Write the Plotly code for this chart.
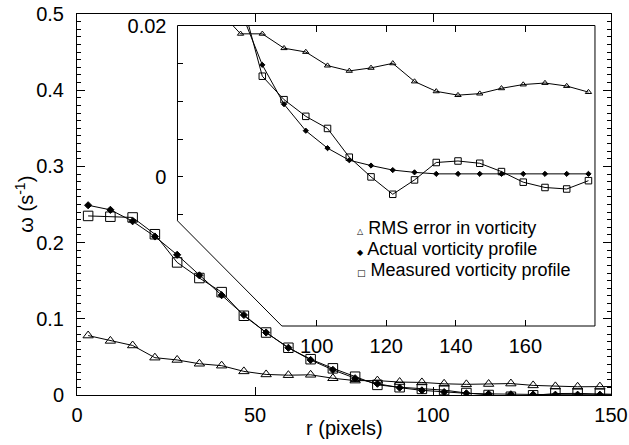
import plotly.graph_objects as go

# ---------------- data ----------------
r_pixels = [3.125, 9.375, 15.625, 21.875, 28.125, 34.375, 40.625, 46.875,
            53.125, 59.375, 65.625, 71.875, 78.125, 84.375, 90.625, 96.875,
            103.125, 109.375, 115.625, 121.875, 128.125, 134.375, 140.625,
            146.875, 153.125, 159.375, 165.625, 171.875, 178.125]

rms_error = [0.078, 0.071, 0.065, 0.049, 0.046, 0.041, 0.0385, 0.031,
             0.027, 0.026, 0.0265, 0.022, 0.0189, 0.0189, 0.0170, 0.0165,
             0.0147, 0.0140, 0.0144, 0.0150, 0.0126, 0.0113, 0.0108,
             0.0110, 0.0117, 0.0122, 0.0124, 0.0120, 0.0112]

actual_profile = [0.249, 0.243, 0.228, 0.208, 0.184, 0.157, 0.131, 0.105,
                  0.082, 0.062, 0.046, 0.033, 0.022, 0.0148, 0.0096, 0.0061,
                  0.0038, 0.0022, 0.0015, 0.0009, 0.0006, 0.0004, 0.0004,
                  0.0004, 0.0004, 0.0004, 0.0004, 0.0004, 0.0004]

measured_profile = [0.235, 0.234, 0.233, 0.211, 0.174, 0.1535, 0.135, 0.104,
                    0.082, 0.062, 0.047, 0.035, 0.024, 0.0133, 0.0102, 0.0080,
                    0.0064, 0.0026, 0.0000, -0.0023, -0.0004, 0.0019, 0.0021,
                    0.0018, 0.0007, -0.0007, -0.0014, -0.0016, -0.0005]

main_x_ticks = [0, 50, 100, 150]
main_y_ticks = [0, 0.1, 0.2, 0.3, 0.4, 0.5]
inset_x_ticks = [100, 120, 140, 160]
inset_y_ticks = [0, 0.02]
inset_y_labels = ["0", "0.02"]
inset_y_minor = [-0.005, 0.005, 0.01, 0.015]

legend_labels = ["RMS error in vorticity", "Actual vorticity profile",
                 "Measured vorticity profile"]
legend_symbols = ["\u25B3", "\u25C6", "\u25A1"]
x_title = "r (pixels)"
y_title = "\u03c9 (s<sup>-1</sup>)"

# ---------------- styling ----------------
FONT = "Liberation Sans, Arial, Helvetica, sans-serif"
series = [
    (rms_error, "triangle-up-open", 9, 5.5),
    (actual_profile, "diamond", 5.5, 4),
    (measured_profile, "square-open", 9.5, 6.5),
]

fig = go.Figure()
for vals, sym, size_main, size_inset in series:
    fig.add_trace(go.Scatter(
        x=r_pixels, y=vals, mode="lines+markers", xaxis="x", yaxis="y",
        line=dict(color="black", width=1),
        marker=dict(symbol=sym, size=size_main, color="black",
                    line=dict(color="black", width=1)),
        showlegend=False, hoverinfo="skip"))
for vals, sym, size_main, size_inset in series:
    fig.add_trace(go.Scatter(
        x=r_pixels, y=vals, mode="lines+markers", xaxis="x2", yaxis="y2",
        line=dict(color="black", width=1),
        marker=dict(symbol=sym, size=size_inset, color="black",
                    line=dict(color="black", width=1)),
        showlegend=False, hoverinfo="skip"))

ix0, ix1 = 0.1882, 0.970
iy0, iy1 = 0.1811, 0.9698

fig.update_layout(
    width=629, height=445,
    margin=dict(l=77, r=18, t=14, b=50, autoexpand=False),
    paper_bgcolor="white", plot_bgcolor="rgba(0,0,0,0)",
    font=dict(family=FONT, size=20, color="black"),
    showlegend=False,
    xaxis=dict(domain=[0, 1], range=[0, 150], tickvals=main_x_ticks,
               ticks="inside", ticklen=8, tickcolor="black",
               ticklabelstandoff=2, ticklabeloverflow="allow",
               showline=True, linecolor="black", linewidth=1, mirror="ticks",
               showgrid=False, zeroline=False, anchor="y", automargin=False),
    yaxis=dict(domain=[0, 1], range=[0, 0.5], tickvals=main_y_ticks,
               ticks="inside", ticklen=8, tickcolor="black",
               ticklabelstandoff=8, ticklabeloverflow="allow",
               minor=dict(dtick=0.01, ticks="inside", ticklen=4,
                          tickcolor="black", showgrid=False),
               showline=True, linecolor="black", linewidth=1, mirror="ticks",
               showgrid=False, zeroline=False, anchor="x", automargin=False),
    xaxis2=dict(domain=[ix0, ix1], range=[60, 180], anchor="y2",
                tickvals=inset_x_ticks, ticks="inside", ticklen=6,
                tickcolor="black", mirror="ticks", showline=True,
                linecolor="rgba(0,0,0,0)", ticklabelstandoff=2,
                ticklabeloverflow="allow",
                showgrid=False, zeroline=False, automargin=False),
    yaxis2=dict(domain=[iy0, iy1], range=[-0.0197, 0.02], anchor="x2",
                tickvals=inset_y_ticks, ticktext=inset_y_labels,
                ticks="inside", ticklen=6, tickcolor="black",
                ticklabelstandoff=6, ticklabeloverflow="allow",
                minor=dict(tickmode="array", tickvals=inset_y_minor,
                           ticks="inside", ticklen=6, tickcolor="black",
                           showgrid=False),
                showline=True, linecolor="rgba(0,0,0,0)",
                showgrid=False, zeroline=False, automargin=False),
)

# inset frame with cut lower-left corner
cut_y = iy0 + 0.35 * (iy1 - iy0)
cut_x = ix0 + 0.25 * (ix1 - ix0)
path = (f"M{ix0},{iy1} L{ix0},{cut_y} L{cut_x},{iy0} "
        f"L{ix1},{iy0} L{ix1},{iy1} Z")
fig.add_shape(type="path", path=path, xref="paper", yref="paper",
              line=dict(color="black", width=1),
              fillcolor="rgba(0,0,0,0)", layer="above")

# axis titles
fig.add_annotation(x=0.5, y=-0.087, xref="paper", yref="paper",
                   xanchor="center", yanchor="middle", showarrow=False,
                   text=x_title, font=dict(family=FONT, size=20))
fig.add_annotation(x=-0.099, y=0.50, xref="paper", yref="paper",
                   xanchor="center", yanchor="middle", showarrow=False,
                   textangle=-90, text=y_title,
                   font=dict(family=FONT, size=20))

# legend text block
leg_x = 0.5206
leg_y = [0.4383, 0.3832, 0.3281]
sym_sizes = [8, 8, 9]
for lab, sym, yy, ss in zip(legend_labels, legend_symbols, leg_y, sym_sizes):
    fig.add_annotation(
        x=leg_x, y=yy, xref="paper", yref="paper", xanchor="left",
        yanchor="middle", showarrow=False,
        text=f"<span style='font-size:{ss}px;font-family:DejaVu Sans'>{sym}</span> {lab}",
        font=dict(family=FONT, size=18, color="black"))

# remove the default 8px page margin so the figure fills the window exactly
fig.write_html("out.html", config={"displayModeBar": False},
               post_script="document.body.style.margin='0px';")
